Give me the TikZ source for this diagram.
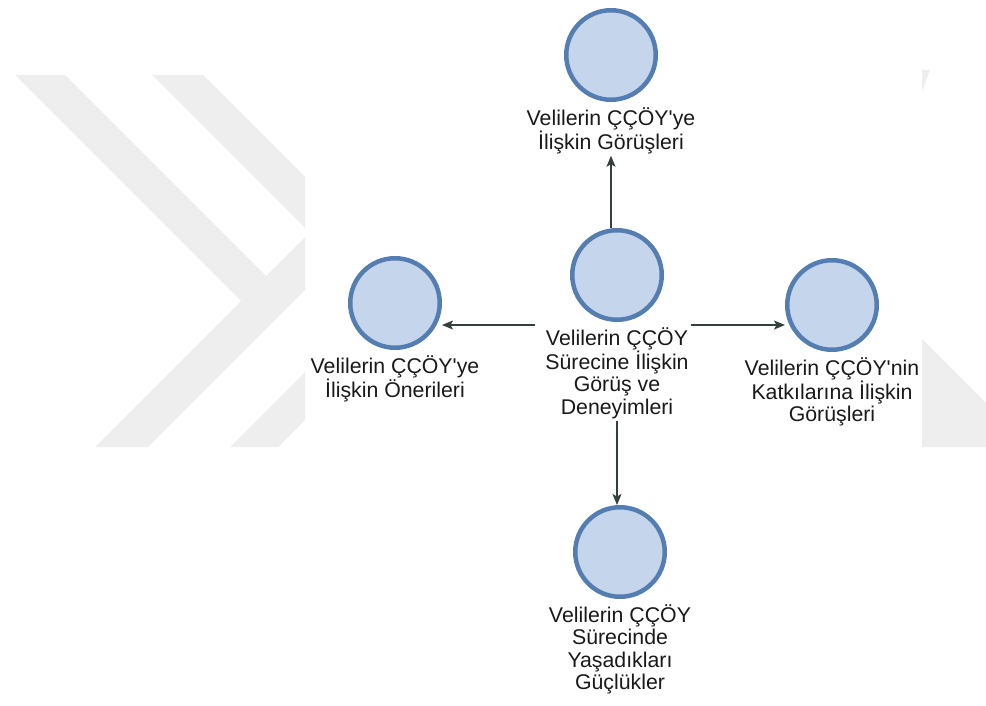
\documentclass[tikz,border=0pt]{standalone}
\usepackage{fontspec}
\setmainfont{Liberation Sans}[Ligatures=TeXOff]
\usetikzlibrary{arrows.meta}
\usetikzlibrary{positioning}

\definecolor{daireDolgu}{RGB}{197,213,235}
\definecolor{daireKenar}{RGB}{84,126,177}
\definecolor{okRengi}{RGB}{52,64,62}
\definecolor{yaziRengi}{RGB}{25,25,25}
\definecolor{filigran}{RGB}{238,238,238}

\begin{document}
\begin{tikzpicture}[
    x=1pt, y=1pt,
    node distance=3pt,
    daire/.style={
        circle, draw=daireKenar, fill=daireDolgu,
        line width=4.5pt,
        minimum size=89.5pt,
        inner sep=0pt
    },
    etiket/.style={
        font=\fontsize{21.3}{22.5}\selectfont,
        text=yaziRengi,
        align=center,
        inner sep=2pt
    },
    okCizgi/.style={
        draw=okRengi, line width=1.3pt,
        -{Stealth[length=11pt,width=9pt,inset=2.5pt]}
    }
]
\useasboundingbox (0,0) rectangle (986,-706);

% filigran (background watermark)
\begin{scope}
    \clip (0,-75) rectangle (305,-447) (922,-60) rectangle (986,-447);
    \fill[filigran] (15,-75) -- (65,-75) -- (266,-276) -- (241,-301) -- cycle;
    \fill[filigran] (95,-447) -- (148,-447) -- (330,-265) -- (330,-212) -- cycle;
    \fill[filigran] (152,-75) -- (203,-75) -- (330,-202) -- (330,-253) -- cycle;
    \fill[filigran] (230,-447) -- (278,-447) -- (330,-395) -- (330,-347) -- cycle;
    \fill[filigran] (922,-339) -- (986,-403) -- (986,-447) -- (922,-447) -- cycle;
    \fill[filigran] (922,-70) -- (930,-70) -- (922,-92) -- cycle;
\end{scope}

\node[daire] (merkez) at (617,-275) {};
\node[etiket, below=of merkez] (merkezYazi) {Velilerin ÇÇÖY\\Sürecine İlişkin\\Görüş ve\\Deneyimleri};

\node[daire] (gorus) at (611,-55) {};
\node[etiket, below=of gorus] (gorusYazi) {Velilerin ÇÇÖY'ye\\İlişkin Görüşleri};

\node[daire] (oneri) at (395,-303) {};
\node[etiket, below=of oneri] (oneriYazi) {Velilerin ÇÇÖY'ye\\İlişkin Önerileri};

\node[daire] (katki) at (832,-305) {};
\node[etiket, below=of katki] (katkiYazi) {Velilerin ÇÇÖY'nin\\Katkılarına İlişkin\\Görüşleri};

\node[daire] (gucluk) at (620,-552) {};
\node[etiket, below=of gucluk] (guclukYazi) {Velilerin ÇÇÖY\\Sürecinde\\Yaşadıkları\\Güçlükler};

\draw[okCizgi] (gorusYazi.south |- merkez.north) -- (gorusYazi.south);
\draw[okCizgi] ([xshift=-8pt]merkezYazi.north west) -- (merkezYazi.north west -| oneri.east);
\draw[okCizgi] (merkezYazi.north east) -- (merkezYazi.north east -| katki.west);
\draw[okCizgi] (merkezYazi.south) -- (merkezYazi.south |- gucluk.north);
\end{tikzpicture}
\end{document}
